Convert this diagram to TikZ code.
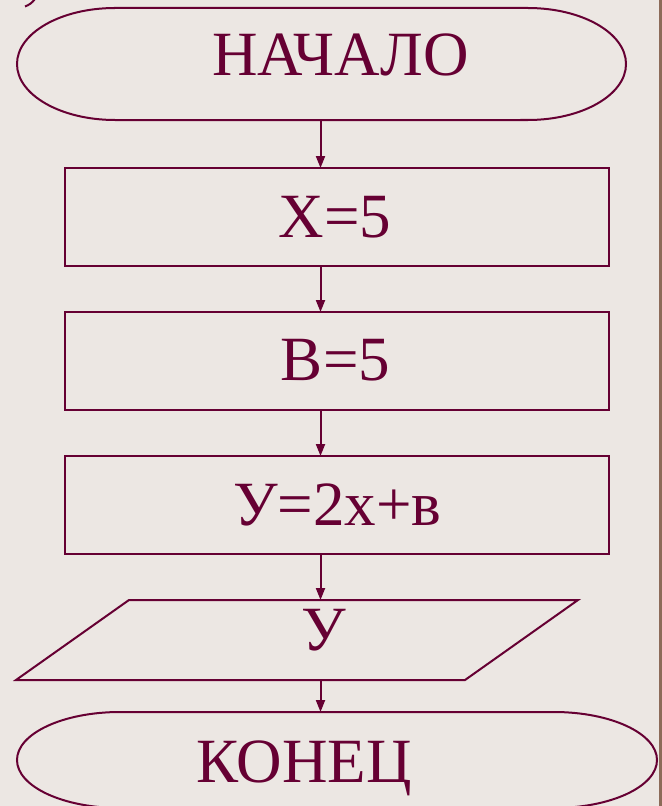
\documentclass[tikz,border=0pt]{standalone}
\usepackage{fontspec}
\setmainfont{Liberation Serif}
\usetikzlibrary{arrows.meta,calc}
\definecolor{bgc}{HTML}{ECE7E3}
\definecolor{maroon}{HTML}{660033}
\definecolor{stripe}{HTML}{8C6B59}
\tikzset{
  line/.style={draw=maroon, line width=2bp},
  shapebox/.style={draw=none, inner sep=0pt, outer sep=0pt},
  procbox/.style={line, inner sep=0pt, outer sep=0pt, minimum width=544bp, minimum height=98bp},
  lbl/.style={text=maroon, inner sep=0pt, anchor=base, font=\fontsize{63bp}{70bp}\selectfont},
  arr/.style={line, -{Triangle[length=12bp,width=9bp]}}
}
\begin{document}
\begin{tikzpicture}[x=1bp,y=1bp]
\fill[bgc] (0,0) rectangle (662,-806);
\useasboundingbox (0,0) rectangle (662,-806);
\fill[stripe] (659,0) rectangle (662,-806);
\draw[line] (25,-6.5) .. controls (29,-5) and (32,-3) .. (35,1);
\coordinate (axis) at (320.5,0);
% start terminator
\node[shapebox, minimum width=609bp, minimum height=112bp] (start) at (321.5,-64) {};
\draw[line] ($(start.north west)+(98,0)$) -- ($(start.north east)+(-98,0)$)
  arc[start angle=90, end angle=-90, x radius=98, y radius=56]
  -- ($(start.south west)+(98,0)$)
  arc[start angle=270, end angle=90, x radius=98, y radius=56] -- cycle;
\node[lbl] (tstart) at (340.5,-76) {НАЧАЛО};
% process boxes
\node[procbox] (p1) at (337,-217) {};
\node[lbl] (t1) at (335,-237) {X=5};
\node[procbox] (p2) at (337,-361) {};
\node[lbl] (t2) at (335.5,-380) {В=5};
\node[procbox] (p3) at (337,-505) {};
\node[lbl] (t3) at (337.5,-525) {У=2х+в};
% output parallelogram
\node[shapebox, minimum width=562bp, minimum height=80bp] (outp) at (297,-640) {};
\draw[line] ($(outp.north west)+(113,0)$) -- (outp.north east)
  -- ($(outp.south east)+(-113,0)$) -- (outp.south west) -- cycle;
\node[lbl] (tout) at (323.5,-650) {У};
% end terminator
\node[shapebox, minimum width=640bp, minimum height=96bp] (stop) at (337,-760) {};
\draw[line] ($(stop.north west)+(103,0)$) -- ($(stop.north east)+(-103,0)$)
  arc[start angle=90, end angle=-90, x radius=103, y radius=48]
  -- ($(stop.south west)+(103,0)$)
  arc[start angle=270, end angle=90, x radius=103, y radius=48] -- cycle;
\node[lbl] (tstop) at (304,-782) {КОНЕЦ};
% arrows
\draw[arr] (start.south -| axis) -- (p1.north -| axis);
\draw[arr] (p1.south -| axis) -- (p2.north -| axis);
\draw[arr] (p2.south -| axis) -- (p3.north -| axis);
\draw[arr] (p3.south -| axis) -- (outp.north -| axis);
\draw[arr] (outp.south -| axis) -- (stop.north -| axis);
\end{tikzpicture}
\end{document}
